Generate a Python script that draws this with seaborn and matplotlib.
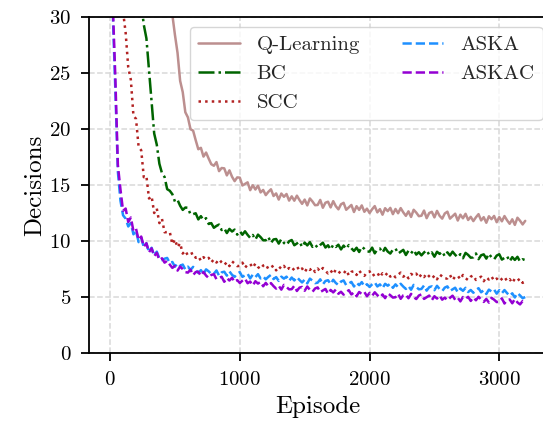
import numpy as np
import pandas as pd
import seaborn as sns
import matplotlib
matplotlib.use("Agg")
import matplotlib.pyplot as plt

# Episodes sampled every 20 steps
episodes = np.arange(0, 3201, 20)

q_learning = [
    60.2, 58.3, 57.1, 55.2, 54.4, 52.5, 50.8, 49.8, 47.7, 46.9,
    45.3, 44.5, 43.1, 41.6, 40.8, 39.2, 38.3, 36.7, 36.2, 34.8,
    34.2, 32.7, 31.9, 30.6, 30.2, 28.4, 26.8, 24.3, 23.3, 21.5,
    21.04, 19.98, 19.86, 19.0, 18.2, 18.32, 17.54, 17.9, 17.36, 16.86,
    16.72, 17.05, 16.24, 16.52, 16.49, 15.86, 16.31, 15.74, 15.35, 15.68,
    15.66, 14.96, 15.1, 15.24, 14.54, 14.98, 14.6, 14.95, 14.34, 14.56,
    14.1, 14.39, 14.62, 14.02, 14.25, 13.7, 14.24, 13.95, 14.2, 13.61,
    13.99, 13.6, 14.05, 13.66, 13.32, 13.7, 13.18, 13.8, 13.53, 13.2,
    13.22, 13.67, 12.97, 13.42, 13.51, 13.0, 13.56, 13.11, 12.83, 13.28,
    13.41, 12.79, 13.0, 13.22, 12.59, 13.11, 12.78, 13.18, 12.61, 12.89,
    12.5, 12.84, 13.12, 12.56, 12.85, 12.35, 12.93, 12.67, 12.96, 12.4,
    12.86, 12.48, 12.94, 12.56, 12.25, 12.65, 12.15, 12.79, 12.54, 12.22,
    12.26, 12.72, 12.04, 12.5, 12.61, 12.11, 12.69, 12.25, 12.0, 12.46,
    12.62, 12.0, 12.22, 12.44, 11.83, 12.35, 12.03, 12.43, 11.88, 12.16,
    11.78, 12.12, 12.4, 11.84, 12.13, 11.63, 12.21, 11.95, 12.24, 11.68,
    12.14, 11.76, 12.23, 11.85, 11.54, 11.94, 11.44, 12.08, 11.81, 11.48,
    11.8,
]

bc = [
    50.2, 47.8, 46.3, 44.4, 43.3, 41.4, 40.2, 38.5, 37.4, 35.5,
    34.2, 32.3, 31.2, 29.3, 28.1, 25.3, 22.5, 19.6, 18.6, 16.9,
    16.06, 15.72, 14.63, 14.49, 14.18, 13.52, 13.67, 13.15, 12.78, 12.99,
    12.97, 12.37, 12.4, 12.48, 11.93, 12.22, 11.86, 12.04, 11.52, 11.6,
    11.18, 11.35, 11.47, 10.98, 11.14, 10.71, 11.08, 10.85, 11.02, 10.57,
    10.88, 10.56, 10.87, 10.55, 10.28, 10.54, 10.13, 10.57, 10.35, 10.07,
    10.06, 10.37, 9.83, 10.14, 10.18, 9.77, 10.17, 9.83, 9.64, 9.98,
    10.09, 9.62, 9.78, 9.94, 9.47, 9.86, 9.61, 9.9, 9.48, 9.69,
    9.4, 9.65, 9.85, 9.42, 9.62, 9.24, 9.67, 9.47, 9.67, 9.25,
    9.59, 9.3, 9.64, 9.35, 9.11, 9.4, 9.02, 9.49, 9.3, 9.05,
    9.06, 9.41, 8.9, 9.25, 9.33, 8.96, 9.39, 9.06, 8.88, 9.23,
    9.34, 8.88, 9.04, 9.21, 8.75, 9.14, 8.9, 9.2, 8.79, 9.0,
    8.72, 8.98, 9.18, 8.76, 8.98, 8.6, 9.04, 8.85, 9.06, 8.64,
    8.99, 8.71, 9.05, 8.77, 8.54, 8.83, 8.46, 8.94, 8.76, 8.51,
    8.54, 8.89, 8.38, 8.73, 8.81, 8.43, 8.87, 8.54, 8.36, 8.7,
    8.82, 8.34, 8.5, 8.65, 8.18, 8.56, 8.31, 8.59, 8.17, 8.37,
    8.3,
]

scc = [
    45.0, 42.3, 40.6, 36.9, 34.4, 30.5, 28.6, 25.5, 24.4, 21.2,
    20.9, 18.4, 18.1, 15.7, 15.8, 13.8, 14.0, 12.5, 12.9, 11.6,
    11.98, 10.78, 10.8, 10.82, 9.72, 10.14, 9.44, 9.8, 8.88, 9.13,
    8.7, 8.84, 8.94, 8.5, 8.63, 8.24, 8.56, 8.35, 8.5, 8.09,
    8.36, 8.08, 8.36, 8.09, 7.86, 8.11, 7.76, 8.18, 7.99, 7.76,
    7.78, 8.07, 7.61, 7.9, 7.96, 7.62, 7.99, 7.68, 7.5, 7.81,
    7.92, 7.5, 7.65, 7.8, 7.38, 7.73, 7.52, 7.78, 7.41, 7.59,
    7.34, 7.56, 7.74, 7.36, 7.55, 7.21, 7.6, 7.42, 7.61, 7.23,
    7.54, 7.28, 7.59, 7.33, 7.11, 7.38, 7.04, 7.46, 7.29, 7.07,
    7.1, 7.4, 6.94, 7.25, 7.31, 6.97, 7.36, 7.06, 6.89, 7.19,
    7.29, 6.88, 7.03, 7.18, 6.77, 7.12, 6.91, 7.18, 6.82, 7.01,
    6.76, 6.99, 7.18, 6.81, 7.0, 6.67, 7.07, 6.9, 7.09, 6.72,
    7.03, 6.78, 7.09, 6.84, 6.63, 6.91, 6.58, 7.01, 6.84, 6.63,
    6.66, 6.97, 6.52, 6.83, 6.9, 6.58, 6.97, 6.68, 6.51, 6.82,
    6.93, 6.52, 6.67, 6.82, 6.41, 6.77, 6.56, 6.83, 6.46, 6.65,
    6.4, 6.62, 6.8, 6.42, 6.6, 6.26, 6.64, 6.46, 6.64, 6.26,
    6.4,
]

aska = [
    37.5, 30.6, 23.7, 16.2, 13.6, 12.3, 12.0, 11.3, 11.6, 10.6,
    10.9, 9.9, 10.3, 9.45, 9.8, 9.0, 9.4, 8.7, 9.05, 8.45,
    8.3, 8.42, 8.49, 8.03, 8.13, 7.71, 8.01, 7.78, 7.9, 7.46,
    7.71, 7.42, 7.69, 7.4, 7.15, 7.4, 7.06, 7.47, 7.29, 7.06,
    7.08, 7.37, 6.91, 7.2, 7.26, 6.91, 7.29, 6.98, 6.8, 7.11,
    7.22, 6.8, 6.94, 7.08, 6.66, 7.0, 6.78, 7.04, 6.66, 6.84,
    6.58, 6.8, 6.98, 6.6, 6.78, 6.44, 6.82, 6.64, 6.82, 6.44,
    6.74, 6.48, 6.78, 6.52, 6.3, 6.56, 6.22, 6.64, 6.46, 6.24,
    6.28, 6.58, 6.13, 6.43, 6.5, 6.16, 6.54, 6.25, 6.07, 6.38,
    6.48, 6.06, 6.21, 6.35, 5.94, 6.28, 6.06, 6.33, 5.95, 6.14,
    5.9, 6.13, 6.31, 5.94, 6.13, 5.79, 6.18, 6.01, 6.19, 5.82,
    6.13, 5.88, 6.18, 5.93, 5.72, 5.98, 5.65, 6.08, 5.9, 5.69,
    5.72, 6.03, 5.57, 5.88, 5.95, 5.61, 6.0, 5.71, 5.53, 5.84,
    5.95, 5.54, 5.68, 5.83, 5.42, 5.76, 5.55, 5.82, 5.44, 5.63,
    5.38, 5.61, 5.79, 5.42, 5.61, 5.27, 5.66, 5.49, 5.67, 5.3,
    5.61, 5.34, 5.62, 5.35, 5.1, 5.33, 4.96, 5.35, 5.14, 4.89,
    5.0,
]

askac = [
    38.0, 31.3, 24.8, 16.8, 14.6, 12.7, 12.9, 11.7, 12.1, 10.9,
    11.1, 10.1, 10.4, 9.5, 9.8, 9.0, 9.35, 8.65, 8.95, 8.3,
    8.46, 8.07, 8.24, 7.9, 7.6, 7.78, 7.36, 7.72, 7.49, 7.22,
    7.18, 7.45, 6.96, 7.23, 7.26, 6.89, 7.24, 6.91, 6.7, 6.97,
    7.04, 6.59, 6.7, 6.81, 6.36, 6.7, 6.47, 6.72, 6.34, 6.51,
    6.25, 6.46, 6.64, 6.23, 6.38, 6.03, 6.41, 6.2, 6.35, 5.96,
    6.26, 5.97, 6.24, 5.97, 5.75, 6.0, 5.66, 6.08, 5.9, 5.68,
    5.7, 6.0, 5.54, 5.84, 5.9, 5.56, 5.94, 5.64, 5.46, 5.76,
    5.86, 5.44, 5.58, 5.72, 5.29, 5.63, 5.41, 5.67, 5.29, 5.47,
    5.21, 5.43, 5.61, 5.23, 5.41, 5.07, 5.45, 5.27, 5.45, 5.07,
    5.36, 5.11, 5.42, 5.17, 4.96, 5.23, 4.9, 5.33, 5.16, 4.95,
    4.98, 5.29, 4.84, 5.15, 5.22, 4.89, 5.28, 4.99, 4.82, 5.13,
    5.24, 4.83, 4.98, 5.13, 4.72, 5.07, 4.86, 5.13, 4.76, 4.95,
    4.7, 4.93, 5.12, 4.75, 4.94, 4.61, 5.0, 4.83, 5.02, 4.65,
    4.96, 4.71, 5.02, 4.77, 4.56, 4.83, 4.5, 4.93, 4.76, 4.55,
    4.58, 4.88, 4.42, 4.72, 4.78, 4.44, 4.82, 4.52, 4.34, 4.64,
    4.5,
]

series = [
    ("Q-Learning", q_learning, "#bc8f8f", "-"),
    ("BC", bc, "#006400", "-."),
    ("SCC", scc, "#b22222", ":"),
    ("ASKA", aska, "#1e90ff", "--"),
    ("ASKAC", askac, "#9400d3", "--"),
]

sns.set_theme(style="ticks")
plt.rcParams["font.family"] = ["cmr10", "DejaVu Serif"]
plt.rcParams["mathtext.fontset"] = "cm"
plt.rcParams["axes.formatter.use_mathtext"] = True
plt.rcParams["axes.unicode_minus"] = False

fig = plt.figure(figsize=(5.43, 4.21), dpi=100)
ax = fig.add_axes([0.1645, 0.1615, 0.841, 0.798])

for name, values, color, ls in series:
    df = pd.DataFrame({"Episode": episodes, "Decisions": values})
    sns.lineplot(data=df, x="Episode", y="Decisions", ax=ax, color=color,
                 linestyle=ls, linewidth=1.8, label=name)

ax.set_xlim(-160, 3360)
ax.set_ylim(0, 30)
ax.set_xticks([0, 1000, 2000, 3000])
ax.set_yticks([0, 5, 10, 15, 20, 25, 30])
ax.grid(True, linestyle="--", color="#d9d9d9", linewidth=1.1)
ax.set_axisbelow(True)

for sp in ax.spines.values():
    sp.set_color("black")
    sp.set_linewidth(1.3)
ax.tick_params(axis="both", direction="out", length=6, width=1.3, pad=7,
               color="black", labelsize=15, labelcolor="black")

ax.set_xlabel("Episode", fontsize=18, color="black", labelpad=5)
ax.set_ylabel("Decisions", fontsize=18, color="black", labelpad=2)

ax.legend(ncol=2, loc="upper left", bbox_to_anchor=(190 / 543, 1 - 27 / 421),
          bbox_transform=fig.transFigure, borderaxespad=0, fontsize=15,
          frameon=True, framealpha=0.8, edgecolor="#cccccc", fancybox=True,
          handlelength=2.0, columnspacing=2.0)

fig.savefig("out.png", dpi=100)
